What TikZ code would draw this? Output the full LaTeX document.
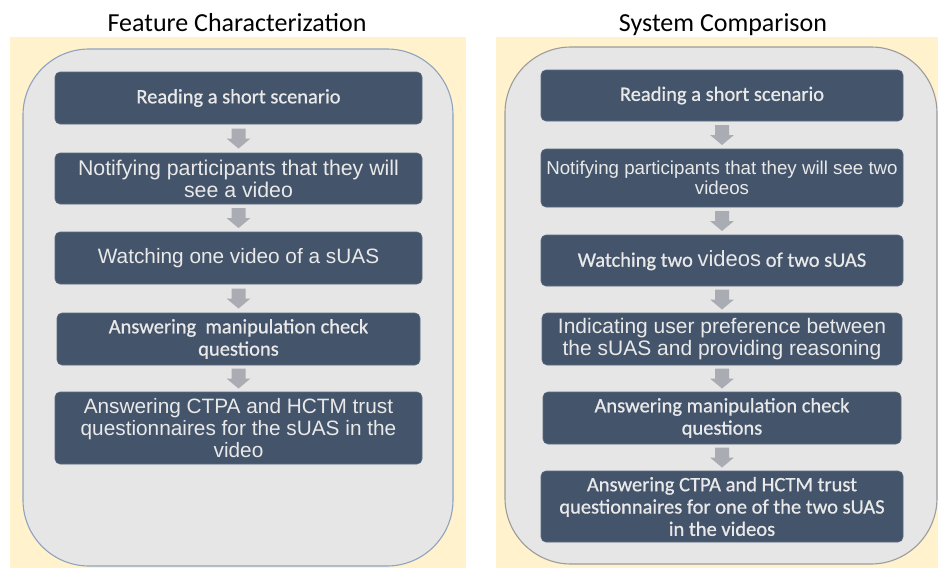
\documentclass[tikz,border=0pt]{standalone}
\usepackage{fontspec}
\setmainfont{Carlito}
\newfontfamily\rob{Liberation Sans}
\newfontfamily\calw{Carlito}[FakeBold=0.7]
\usetikzlibrary{calc}
\definecolor{cream}{HTML}{FFF2CC}
\definecolor{panelgray}{HTML}{E7E6E6}
\definecolor{panelblue}{HTML}{8FA3BF}
\definecolor{panelgrey}{HTML}{9C9C9C}
\definecolor{boxfill}{HTML}{44546A}
\definecolor{boxline}{HTML}{5B6B82}
\definecolor{boxtext}{HTML}{E9E9E9}
\definecolor{arrowgray}{HTML}{A9ACB2}
\tikzset{
  stepbox/.style={rectangle, rounded corners=5pt, fill=boxfill, draw=boxline, line width=0.6pt,
    inner sep=0pt, outer sep=0pt, text=boxtext, align=center},
  calfont/.style={font=\calw\fontsize{20.5}{22.3}\selectfont},
  robfont/.style={font=\rob\fontsize{20.8}{22.3}\selectfont},
  title/.style={font=\fontsize{26}{28}\selectfont, anchor=base, text=black, inner sep=0pt},
}
\newcommand\blockarrow[2]{%
  \path (#1.south) -- (#2.north) coordinate[pos=0.5] (am);
  \fill[arrowgray] ($(am)+(-7,-10)$) -- ($(am)+(7,-10)$) -- ($(am)+(7,0)$) -- ($(am)+(12,0)$)
    -- ($(am)+(0,10)$) -- ($(am)+(-12,0)$) -- ($(am)+(-7,0)$) -- cycle;}
\begin{document}
\begin{tikzpicture}[x=1pt,y=-1pt]
\useasboundingbox (0,0) rectangle (938,568);
\fill[white] (0,0) rectangle (938,568);
% panels
\fill[cream] (10,37) rectangle (466,568);
\fill[cream] (496,37) rectangle (938,568);
\draw[fill=panelgray, draw=panelblue, line width=1.1pt, rounded corners=66pt] (23,49) rectangle (453,566);
\draw[fill=panelgray, draw=panelgrey, line width=1.1pt, rounded corners=66pt] (505,47) rectangle (937,564);
% titles
\node[title] (t1) at (237,31) {Feature Characterization};
\node[title] (t2) at (723,31) {System Comparison};
% left column
\node[stepbox, calfont, minimum width=367pt, minimum height=52pt] (l1) at (238.5,98) {Reading a short scenario};
\node[stepbox, font=\rob\fontsize{21.3}{22}\selectfont, minimum width=367pt, minimum height=51pt] (l2) at (238.5,178.5) {Notifying participants that they will\\see a video};
\node[stepbox, robfont, minimum width=367pt, minimum height=52pt] (l3) at (238.5,258) {Watching one video of a sUAS};
\node[stepbox, calfont, minimum width=363pt, minimum height=52pt] (l4) at (238.5,339) {Answering\ \ manipulation check\\questions};
\node[stepbox, robfont, minimum width=367pt, minimum height=72pt] (l5) at (238.5,428) {Answering CTPA and HCTM trust\\questionnaires for the sUAS in the\\video};
\blockarrow{l1}{l2}
\blockarrow{l2}{l3}
\blockarrow{l3}{l4}
\blockarrow{l4}{l5}
% right column
\node[stepbox, calfont, minimum width=362pt, minimum height=51pt] (r1) at (722,95.5) {Reading a short scenario};
\node[stepbox, font=\rob\fontsize{18.7}{19.5}\selectfont, minimum width=362pt, minimum height=58pt] (r2) at (722,178) {Notifying participants that they will see two\\videos};
\node[stepbox, calfont, minimum width=362pt, minimum height=51pt] (r3) at (722,260.5) {Watching two {\rob\fontsize{22}{22}\selectfont videos} of two sUAS};
\node[stepbox, font=\rob\fontsize{21}{22.3}\selectfont, minimum width=360pt, minimum height=52pt] (r4) at (722,339) {Indicating user preference between\\the sUAS and providing reasoning};
\node[stepbox, calfont, minimum width=358pt, minimum height=52pt] (r5) at (722,418) {Answering manipulation check\\questions};
\node[stepbox, calfont, minimum width=362pt, minimum height=71pt] (r6) at (722,506.5) {Answering CTPA and HCTM trust\\questionnaires for one of the two sUAS\\in the videos};
\blockarrow{r1}{r2}
\blockarrow{r2}{r3}
\blockarrow{r3}{r4}
\blockarrow{r4}{r5}
\blockarrow{r5}{r6}
\end{tikzpicture}
\end{document}
